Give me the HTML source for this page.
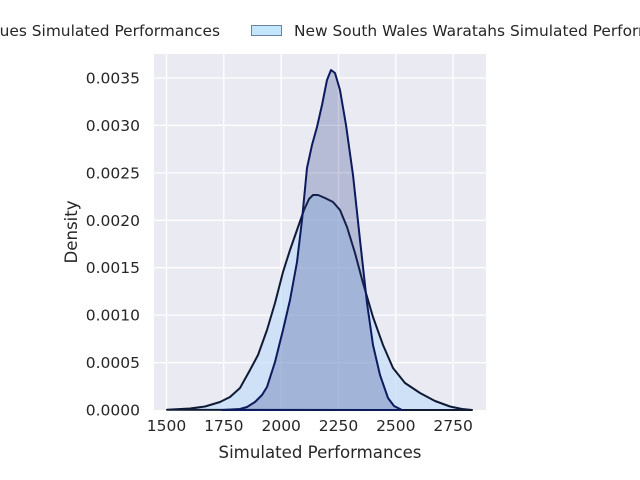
<!DOCTYPE html>
<html><head><meta charset="utf-8"><style>
body{margin:0;background:#fff;}
svg{display:block;font-family:"DejaVu Sans","Liberation Sans",sans-serif;}
</style></head><body>
<svg width="640" height="480" viewBox="0 0 640 480">
<rect x="154" y="54" width="332" height="356" fill="#eaeaf2"/>
<g stroke="#fff" stroke-width="1.3">
<line x1="166.5" y1="54" x2="166.5" y2="410"/><line x1="223.8" y1="54" x2="223.8" y2="410"/>
<line x1="281.2" y1="54" x2="281.2" y2="410"/><line x1="338.5" y1="54" x2="338.5" y2="410"/>
<line x1="395.8" y1="54" x2="395.8" y2="410"/><line x1="453.1" y1="54" x2="453.1" y2="410"/>
<line x1="154" y1="362.6" x2="486" y2="362.6"/><line x1="154" y1="315.1" x2="486" y2="315.1"/>
<line x1="154" y1="267.7" x2="486" y2="267.7"/><line x1="154" y1="220.3" x2="486" y2="220.3"/>
<line x1="154" y1="172.9" x2="486" y2="172.9"/><line x1="154" y1="125.4" x2="486" y2="125.4"/>
<line x1="154" y1="78" x2="486" y2="78"/>
</g>
<polygon points="167,409.8 190,408.5 205,406.5 220,402 230,397 240,388 250,370 258,355 267,330 275,303 283,272 290,250 297,230 304,210 309,199 313,195 318,195 325,198 333,202 340,210 347,227 355,253 363,283 373,317 383,345 393,368 405,383 420,393 435,401 450,406.5 462,409 472,410" fill="rgba(190,220,248,0.65)" stroke="#101a35" stroke-width="2" stroke-linejoin="round"/>
<polygon points="222,410 240,409 247,407 255,402 262,395 267,387 275,362 283,330 290,300 297,262 302,220 307,168 312,145 317,127 322,105 327,80 331,70 335,73 340,90 346,125 353,175 360,240 367,303 373,345 380,375 388,398 394,406 402,410" fill="rgba(30,50,130,0.25)" stroke="#0c1a5e" stroke-width="2" stroke-linejoin="round"/>
<g font-size="15.5" fill="#262626" text-anchor="middle">
<text x="166.5" y="431">1500</text><text x="223.8" y="431">1750</text><text x="281.2" y="431">2000</text>
<text x="338.5" y="431">2250</text><text x="395.8" y="431">2500</text><text x="453.1" y="431">2750</text>
</g>
<g font-size="15.5" fill="#262626" text-anchor="end">
<text x="140" y="415.5">0.0000</text><text x="140" y="368">0.0005</text><text x="140" y="320.6">0.0010</text>
<text x="140" y="273.2">0.0015</text><text x="140" y="225.8">0.0020</text><text x="140" y="178.4">0.0025</text>
<text x="140" y="131">0.0030</text><text x="140" y="83.5">0.0035</text>
</g>
<text x="320" y="458" font-size="16.6" fill="#262626" text-anchor="middle">Simulated Performances</text>
<text x="77" y="232" font-size="16.6" fill="#262626" text-anchor="middle" transform="rotate(-90 77 232)">Density</text>
<text x="220" y="36" font-size="15.4" fill="#262626" text-anchor="end">ues Simulated Performances</text>
<rect x="251.5" y="25.5" width="30" height="10" fill="#c3e6fc" stroke="#6b82a0" stroke-width="1"/>
<text x="294" y="36" font-size="15.4" fill="#262626">New South Wales Waratahs Simulated Performances</text>
</svg>
</body></html>
